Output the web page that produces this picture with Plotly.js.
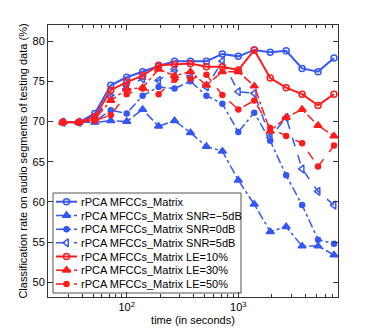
<!DOCTYPE html>
<html>
<head>
<meta charset="utf-8">
<script src="https://cdn.plot.ly/plotly-3.0.1.min.js"></script>
<style>
  html, body { margin: 0; padding: 0; background: #fff; }
  #chart { width: 374px; height: 335px; }
</style>
</head>
<body>
<div id="chart"></div>
<script>
// time axis (seconds), shared by every series
const times = [26.8, 37.3, 51.8, 72.0, 100, 138.9, 193.1, 268.3, 372.8, 518.0,
               719.7, 1000, 1389, 1931, 2683, 3728, 5179, 7197];

const clean  = [69.9, 69.9, 71.0, 74.5, 75.5, 76.2, 76.9, 77.5, 77.5, 77.5,
                78.4, 78.1, 78.9, 78.6, 78.8, 76.6, 76.2, 77.9];
const snrM5  = [69.9, 69.9, 69.9, 70.1, 70.0, 71.5, 69.4, 70.1, 68.6, 66.9,
                66.3, 62.7, 59.7, 56.3, 56.9, 54.5, 54.5, 53.4];
const snr0   = [69.9, 69.9, 70.0, 71.4, 71.0, 73.2, 74.3, 74.1, 75.0, 73.2,
                72.2, 68.7, 71.1, 67.6, 63.3, 59.6, 55.3, 54.8];
const snr5   = [69.9, 69.9, 70.5, 73.0, 74.4, 75.3, 75.1, 76.5, 75.5, 74.3,
                77.5, 73.7, 73.5, 68.0, 70.5, 64.1, 61.3, 59.6];
const le10   = [69.9, 69.9, 70.6, 73.9, 74.9, 75.7, 77.0, 77.1, 77.2, 76.8,
                76.8, 76.4, 78.9, 75.4, 74.2, 73.4, 72.0, 73.4];
const le30   = [69.9, 69.9, 70.3, 72.6, 74.0, 74.2, 76.5, 75.7, 76.2, 74.5,
                76.2, 76.2, 74.4, 68.8, 70.5, 71.5, 69.5, 68.2];
const le50   = [69.9, 69.9, 70.1, 70.8, 73.4, 74.1, 73.4, 75.2, 75.3, 75.8,
                73.3, 71.5, 72.6, 69.2, 68.2, 67.3, 64.4, 67.0];

const names = ['rPCA MFCCs_Matrix', 'rPCA MFCCs_Matrix SNR=\u22125dB',
               'rPCA MFCCs_Matrix SNR=0dB', 'rPCA MFCCs_Matrix SNR=5dB',
               'rPCA MFCCs_Matrix LE=10%', 'rPCA MFCCs_Matrix LE=30%',
               'rPCA MFCCs_Matrix LE=50%'];

const BLUE = '#3558f5';
const RED = '#ff1c1c';

const styles = [
    { color: BLUE, dash: 'solid',   symbol: 'circle-open',        size: 6, width: 2 },
    { color: BLUE, dash: 'dashdot', symbol: 'triangle-up',        size: 7, width: 1.5 },
    { color: BLUE, dash: 'dashdot', symbol: 'circle',             size: 5, width: 1.5 },
    { color: BLUE, dash: 'dash',    symbol: 'triangle-left-open', size: 7, width: 1.5 },
    { color: RED,  dash: 'solid',   symbol: 'circle-open',        size: 6, width: 2 },
    { color: RED,  dash: 'dashdot', symbol: 'triangle-up',        size: 7, width: 1.5 },
    { color: RED,  dash: 'dash',    symbol: 'circle',             size: 5, width: 1.5 }
];
const allSeries = [clean, snrM5, snr0, snr5, le10, le30, le50];

function markerOf(s) {
    return { symbol: s.symbol, size: s.size, color: s.color, line: { color: s.color, width: 1.5 } };
}

const traces = allSeries.map((y, i) => ({
    x: times, y: y, name: names[i], type: 'scatter', mode: 'lines+markers',
    line: { color: styles[i].color, dash: styles[i].dash, width: styles[i].width },
    marker: markerOf(styles[i]), showlegend: false
}));

// compact MATLAB-style legend, drawn on an overlay axis in plot-fraction units
const plotL = 48, plotR = 338, plotT = 25, plotB = 297;
const fx = px => (px - plotL) / (plotR - plotL);
const fy = py => (plotB - py) / (plotB - plotT);
const legBox = { l: 53, r: 241, t: 193, b: 293 };
const legRows = [201.7, 215.5, 229.2, 242.8, 256.5, 270.2, 284];

traces.push({
    x: [fx(legBox.l), fx(legBox.r), fx(legBox.r), fx(legBox.l), fx(legBox.l)],
    y: [fy(legBox.b), fy(legBox.b), fy(legBox.t), fy(legBox.t), fy(legBox.b)],
    xaxis: 'x2', yaxis: 'y2', type: 'scatter', mode: 'lines', fill: 'toself',
    fillcolor: '#fff', line: { color: '#555', width: 1 }, showlegend: false, hoverinfo: 'skip'
});
const annotations = [];
legRows.forEach((py, i) => {
    const s = styles[i];
    traces.push({
        x: [fx(56), fx(77)], y: [fy(py), fy(py)], xaxis: 'x2', yaxis: 'y2',
        type: 'scatter', mode: 'lines', showlegend: false, hoverinfo: 'skip',
        line: { color: s.color, dash: s.dash, width: s.width }
    });
    traces.push({
        x: [fx(66.5)], y: [fy(py)], xaxis: 'x2', yaxis: 'y2',
        type: 'scatter', mode: 'markers', showlegend: false, hoverinfo: 'skip',
        marker: markerOf(s)
    });
    annotations.push({
        xref: 'paper', yref: 'paper', x: fx(79), y: fy(py), xanchor: 'left', yanchor: 'middle',
        text: names[i], showarrow: false, font: { size: 11, color: '#000' }
    });
});

const minorX = [20, 30, 40, 50, 60, 70, 80, 90, 200, 300, 400, 500, 600, 700, 800, 900,
                2000, 3000, 4000, 5000, 6000, 7000];

const layout = {
    width: 374, height: 335,
    margin: { l: 48, r: 36, t: 25, b: 38 },
    paper_bgcolor: '#fff', plot_bgcolor: '#fff',
    font: { family: 'Liberation Sans, Arial, sans-serif', size: 11, color: '#000' },
    showlegend: false,
    annotations: annotations,
    xaxis: {
        type: 'log', range: [1.295, 3.893],
        tickvals: [100, 1000], ticktext: ['10<sup>2</sup>', '10<sup>3</sup>'],
        ticks: 'inside', ticklen: 5, tickcolor: '#333',
        minor: { tickvals: minorX, ticks: 'inside', ticklen: 3, tickcolor: '#333', showgrid: false },
        showgrid: false, zeroline: false,
        showline: true, linecolor: '#333', linewidth: 1, mirror: 'allticks',
        title: { text: 'time (in seconds)', font: { size: 11 }, standoff: 4 }
    },
    yaxis: {
        range: [48.17, 82.0],
        tickvals: [50, 55, 60, 65, 70, 75, 80],
        ticks: 'inside', ticklen: 5, tickcolor: '#333',
        showgrid: false, zeroline: false,
        showline: true, linecolor: '#333', linewidth: 1, mirror: 'allticks',
        title: { text: 'Classification rate on audio segments of testing data (%)',
                 font: { size: 11 }, standoff: 2 }
    },
    xaxis2: { overlaying: 'x', range: [0, 1], visible: false, fixedrange: true },
    yaxis2: { overlaying: 'y', range: [0, 1], visible: false, fixedrange: true }
};

Plotly.newPlot('chart', traces, layout, { staticPlot: true, displayModeBar: false });
</script>
</body>
</html>
